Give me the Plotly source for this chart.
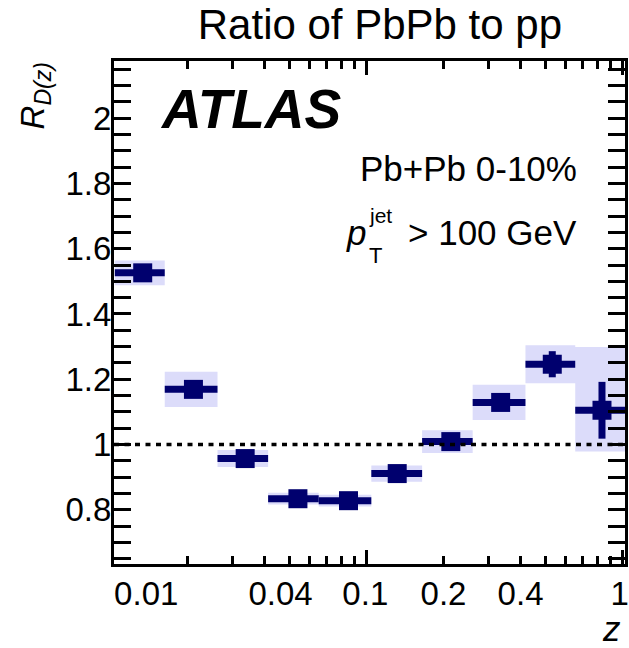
import plotly.graph_objects as go

# ---------------- data ----------------
z_centers = [0.01337, 0.0211, 0.0336, 0.0540, 0.0851, 0.1319, 0.2136, 0.3344, 0.532, 0.832]
bin_lo = [0.0104, 0.0163, 0.0262, 0.0413, 0.0651, 0.1045, 0.165, 0.260, 0.418, 0.654]
bin_hi = [0.0163, 0.0262, 0.0413, 0.0651, 0.1045, 0.165, 0.260, 0.418, 0.654, 1.03]
ratio = [1.526, 1.169, 0.957, 0.834, 0.828, 0.911, 1.009, 1.129, 1.246, 1.105]
stat_err = [0.008, 0.010, 0.008, 0.006, 0.006, 0.008, 0.010, 0.015, 0.040, 0.087]
sys_up = [0.038, 0.054, 0.026, 0.018, 0.018, 0.025, 0.035, 0.054, 0.058, 0.194]
sys_down = [0.038, 0.054, 0.026, 0.018, 0.018, 0.025, 0.035, 0.054, 0.058, 0.126]

y_tick_vals = [0.8, 1.0, 1.2, 1.4, 1.6, 1.8, 2.0]
y_tick_text = ["0.8", "1", "1.2", "1.4", "1.6", "1.8", "2"]
x_major_ticks = [0.1, 1.0]
x_minor_ticks = [0.02, 0.03, 0.04, 0.05, 0.06, 0.07, 0.08, 0.09,
                 0.2, 0.3, 0.4, 0.5, 0.6, 0.7, 0.8, 0.9]
x_label_pos = [0.0138, 0.0462, 0.099, 0.2, 0.4, 0.975]
x_label_text = ["0.01", "0.04", "0.1", "0.2", "0.4", "1"]

NAVY = "#00006e"
BOX = "#dcdcfa"
FONT = "Liberation Sans, Arial, Helvetica, sans-serif"

# systematic boxes as polygons
bx, by = [], []
for lo, hi, r, u, d in zip(bin_lo, bin_hi, ratio, sys_up, sys_down):
    bx += [lo, hi, hi, lo, lo, None]
    by += [r - d, r - d, r + u, r + u, r - d, None]

fig = go.Figure()
fig.add_trace(go.Scatter(x=bx, y=by, mode="lines", fill="toself",
                         fillcolor=BOX, line=dict(width=0, color=BOX),
                         hoverinfo="skip"))
fig.add_trace(go.Scatter(
    x=z_centers, y=ratio, mode="markers",
    marker=dict(symbol="square", size=19, color=NAVY, line=dict(width=0)),
    error_x=dict(type="data", symmetric=False,
                 array=[h - z for h, z in zip(bin_hi, z_centers)],
                 arrayminus=[z - l for z, l in zip(z_centers, bin_lo)],
                 color=NAVY, thickness=7, width=0),
    error_y=dict(type="data", array=stat_err, color=NAVY, thickness=7, width=0),
))
# invisible trace to anchor label axis
fig.add_trace(go.Scatter(x=z_centers, y=ratio, xaxis="x2", mode="markers",
                         marker=dict(opacity=0), hoverinfo="skip"))

fig.add_shape(type="line", xref="paper", x0=0, x1=1, yref="y", y0=1, y1=1,
              line=dict(color="black", width=3.5, dash="5px,5.5px"), layer="above")

fig.update_layout(
    width=629, height=648,
    margin=dict(l=114, r=1, t=61, b=84),
    paper_bgcolor="white", plot_bgcolor="white",
    showlegend=False,
    font=dict(family=FONT, color="black"),
    title=dict(text="Ratio of PbPb to pp", x=0.604, xanchor="center",
               y=0.962, yanchor="middle", font=dict(size=42, family=FONT)),
    xaxis=dict(type="log", range=[-1.986, 0.010],
               showline=True, linecolor="black", linewidth=3, mirror="allticks",
               ticks="inside", tickmode="array", tickvals=x_major_ticks,
               ticklen=14, tickwidth=3, tickcolor="black",
               showticklabels=False, showgrid=False, zeroline=False,
               minor=dict(tickmode="array", tickvals=x_minor_ticks, ticks="inside",
                          ticklen=8, tickwidth=2.5, tickcolor="black", showgrid=False)),
    xaxis2=dict(type="log", range=[-1.986, 0.010], overlaying="x", side="bottom",
                anchor="y", tickmode="array", tickvals=x_label_pos,
                ticktext=x_label_text, ticks="", showline=False, showgrid=False,
                zeroline=False, tickfont=dict(size=33, family=FONT),
                ticklabelstandoff=7),
    yaxis=dict(range=[0.634, 2.175],
               showline=True, linecolor="black", linewidth=3, mirror="allticks",
               ticks="inside", tickmode="array", tickvals=y_tick_vals,
               ticktext=y_tick_text, ticklen=17, tickwidth=3, tickcolor="black",
               tickfont=dict(size=33, family=FONT), showgrid=False, zeroline=False,
               ticklabelstandoff=-7,
               minor=dict(dtick=0.05, tick0=0, ticks="inside", ticklen=9,
                          tickwidth=2.5, tickcolor="black", showgrid=False)),
)

ann = [
    dict(text="<b><i>ATLAS</i></b>", x=(158 - 114) / 514, y=0.905, xanchor="left",
         yanchor="middle", font=dict(size=55)),
    dict(text="Pb+Pb 0-10%", x=(582 - 114) / 514, y=(564 - 168) / 503, xanchor="right",
         yanchor="middle", font=dict(size=35)),
    dict(text="<i>p</i>", x=(357 - 114) / 514, y=(564 - 232) / 503,
         xanchor="center", yanchor="middle", font=dict(size=35)),
    dict(text="jet", x=(382 - 114) / 514, y=(564 - 215) / 503,
         xanchor="center", yanchor="middle", font=dict(size=21)),
    dict(text="T", x=(377 - 114) / 514, y=(564 - 255) / 503,
         xanchor="center", yanchor="middle", font=dict(size=22)),
    dict(text="> 100 GeV", x=(582 - 114) / 514, y=(564 - 232) / 503, xanchor="right",
         yanchor="middle", font=dict(size=35)),
    dict(text="<i>R</i><sub><i>D(z)</i></sub>", x=(35 - 114) / 514,
         y=(564 - 96) / 503, xanchor="center", yanchor="middle",
         textangle=-90, font=dict(size=33)),
    dict(text="<i>z</i>", x=(614 - 114) / 514, y=(564 - 628) / 503,
         xanchor="center", yanchor="middle", font=dict(size=35)),
]
for a in ann:
    a.update(xref="paper", yref="paper", showarrow=False)
fig.update_layout(annotations=ann)

fig.write_html("out.html")
